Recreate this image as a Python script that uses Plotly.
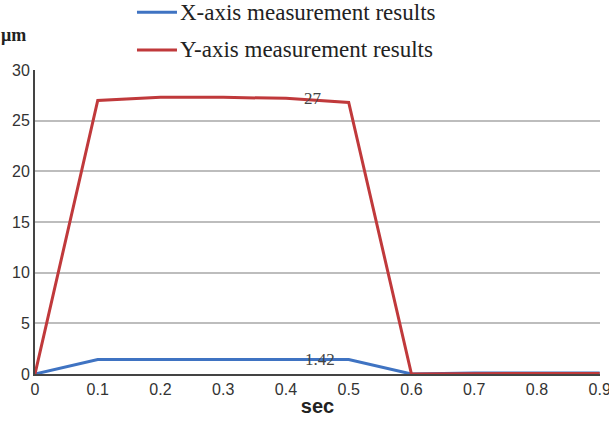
import plotly.graph_objects as go

t = [0, 0.1, 0.2, 0.3, 0.4, 0.5, 0.6, 0.7, 0.8, 0.9]
x_axis_results = [0, 1.42, 1.42, 1.42, 1.42, 1.42, 0, 0.1, 0.1, 0.1]
y_axis_results = [0, 27.0, 27.3, 27.3, 27.2, 26.8, 0, 0.05, 0.05, 0.05]
x_ticks = [0, 0.1, 0.2, 0.3, 0.4, 0.5, 0.6, 0.7, 0.8, 0.9]
x_tick_labels = ["0", "0.1", "0.2", "0.3", "0.4", "0.5", "0.6", "0.7", "0.8", "0.9"]
y_ticks = [0, 5, 10, 15, 20, 25, 30]
series_names = ["X-axis measurement results", "Y-axis measurement results"]
series_colors = ["#3f73c2", "#c0393b"]
labels = [("1.42", 0.454, 1.42), ("27", 0.443, 27.2)]

fig = go.Figure()
for vals, name, col in zip([x_axis_results, y_axis_results], series_names, series_colors):
    fig.add_trace(go.Scatter(x=t, y=vals, mode="lines", name=name,
                             line=dict(color=col, width=3), showlegend=False))

for txt, xv, yv in labels:
    fig.add_annotation(x=xv, y=yv, text=txt, showarrow=False,
                       font=dict(family="Liberation Serif", size=17, color="#444"))

# manual legend (outside plot area, stacked)
legend_y = [1.19, 1.066]
for name, col, ly in zip(series_names, series_colors, legend_y):
    fig.add_shape(type="line", xref="paper", yref="paper", x0=0.1805, x1=0.2513,
                  y0=ly, y1=ly, line=dict(color=col, width=3))
    fig.add_annotation(xref="paper", yref="paper", x=0.2531, y=ly, xanchor="left",
                       yanchor="middle", text=name, showarrow=False,
                       font=dict(family="Liberation Serif", size=23, color="#222"))

fig.add_annotation(xref="paper", yref="paper", x=-0.064, y=1.115, xanchor="left",
                   yanchor="middle", text="<b>μm</b>", showarrow=False,
                   font=dict(family="Liberation Serif", size=18, color="#222"))

fig.update_layout(
    width=609, height=425,
    margin=dict(l=35, r=9, t=70, b=51, autoexpand=False),
    plot_bgcolor="white", paper_bgcolor="white",
    showlegend=False,
    xaxis=dict(range=[0, 0.9005], tickvals=x_ticks, ticktext=x_tick_labels,
               showgrid=False, zeroline=False, showline=True, automargin=False,
               linecolor="#444", linewidth=2, ticklabeloverflow="allow",
               tickfont=dict(family="Liberation Sans", size=16, color="#333"),
               title=dict(text="<b>sec</b>", standoff=2,
                          font=dict(family="Liberation Sans", size=20, color="#222"))),
    yaxis=dict(range=[0, 30], tickvals=y_ticks, showgrid=True, gridcolor="#bdbdbd",
               gridwidth=1.5, zeroline=False, showline=True, linecolor="#444", linewidth=2,
               automargin=False,
               tickfont=dict(family="Liberation Sans", size=16, color="#333"),
               ticks="", ticklen=0),
)
fig.write_html("out.html")
